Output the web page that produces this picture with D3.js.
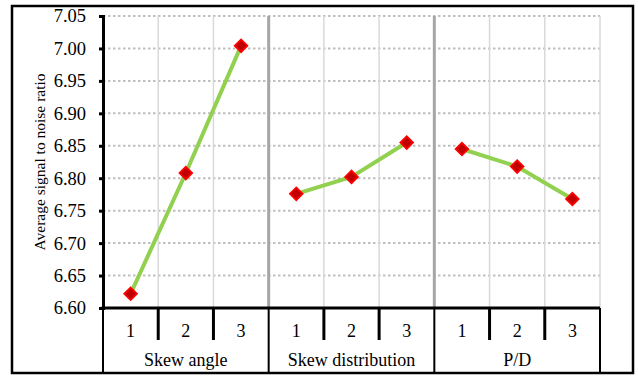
<!DOCTYPE html>
<html><head><meta charset="utf-8">
<script src="https://cdn.jsdelivr.net/npm/d3@7"></script>
<style>body{margin:0;background:#fff}svg{display:block}</style>
</head><body><svg id="c" width="638" height="376"></svg>
<script>
const groups = ["Skew angle", "Skew distribution", "P/D"];
const levels = ["1", "2", "3"];
const skewAngle = [6.622, 6.808, 7.004];
const skewDistribution = [6.776, 6.802, 6.855];
const pd = [6.845, 6.818, 6.768];
const yTicks = [6.60, 6.65, 6.70, 6.75, 6.80, 6.85, 6.90, 6.95, 7.00, 7.05];
const yTitle = "Average signal to noise ratio";

const seriesByGroup = [skewAngle, skewDistribution, pd];
const data = [];
groups.forEach((g, gi) => levels.forEach((l, li) => data.push({g, l, key: g + "|" + l, v: seriesByGroup[gi][li]})));

const FONT = '"Liberation Serif"';
const svg = d3.select("#c");
const L = 103, R = 600, T = 16, B = 308, Bottom = 373;
const x = d3.scaleBand().domain(data.map(d => d.key)).range([L, R]).padding(0);
const y = d3.scaleLinear().domain([6.60, 7.05]).range([B, T]);

// outer border
svg.append("rect").attr("x", 12).attr("y", 6).attr("width", 621).attr("height", 367)
  .attr("fill", "none").attr("stroke", "#000").attr("stroke-width", 2.5);

// horizontal dotted gridlines
svg.append("g").selectAll("line").data(yTicks.slice(1)).join("line")
  .attr("x1", L).attr("x2", R).attr("y1", d => y(d)).attr("y2", d => y(d))
  .attr("stroke", "#BFBFBF").attr("stroke-width", 2).attr("stroke-dasharray", "2.5,2.5");

// vertical gridlines
const bounds = data.map((d, i) => i).slice(1).concat([data.length]);
svg.append("g").selectAll("line").data(bounds).join("line")
  .attr("x1", i => L + i * x.bandwidth()).attr("x2", i => L + i * x.bandwidth())
  .attr("y1", T).attr("y2", B)
  .attr("stroke", i => (i % 3 === 0 && i < data.length) ? "#A6A6A6" : "#D9D9D9")
  .attr("stroke-width", i => (i % 3 === 0 && i < data.length) ? 3 : 1.5);

// y axis
const yAxis = d3.axisLeft(y).tickValues(yTicks).tickFormat(d3.format(".2f")).tickSize(4).tickPadding(13);
const ya = svg.append("g").attr("transform", `translate(${L},0)`).call(yAxis);
ya.select(".domain").attr("stroke", "#000").attr("stroke-width", 3);
ya.selectAll(".tick line").attr("stroke", "#000").attr("stroke-width", 3);
ya.selectAll(".tick text").style("font-family", FONT).style("font-size", "18.5px").attr("fill", "#000");

// y title
svg.append("text").attr("transform", `translate(45,${(T + B) / 2}) rotate(-90)`)
  .attr("text-anchor", "middle").style("font-family", FONT).style("font-size", "15.5px").text(yTitle);

// category axis
const cat = svg.append("g");
cat.append("line").attr("x1", L - 1.5).attr("x2", R).attr("y1", B).attr("y2", B).attr("stroke", "#000").attr("stroke-width", 3);
cat.append("line").attr("x1", L).attr("x2", L).attr("y1", B).attr("y2", Bottom).attr("stroke", "#000").attr("stroke-width", 2);
const bandW = x.bandwidth();
cat.selectAll("line.sep").data(d3.range(1, data.length + 1)).join("line").attr("class", "sep")
  .attr("x1", i => L + i * bandW).attr("x2", i => L + i * bandW)
  .attr("y1", B).attr("y2", i => i % 3 === 0 ? Bottom : 340)
  .attr("stroke", "#000").attr("stroke-width", i => i % 3 === 0 ? 2 : 3);
cat.selectAll("text.lv").data(data).join("text").attr("class", "lv")
  .attr("x", d => x(d.key) + bandW / 2).attr("y", 337).attr("text-anchor", "middle")
  .style("font-family", FONT).style("font-size", "18px").text(d => d.l);
cat.selectAll("text.gr").data(groups).join("text").attr("class", "gr")
  .attr("x", (g, gi) => L + (gi * 3 + 1.5) * bandW).attr("y", 366).attr("text-anchor", "middle")
  .style("font-family", FONT).style("font-size", "18px").text(g => g);

// lines per group
const line = d3.line().x(d => x(d.key) + bandW / 2).y(d => y(d.v));
groups.forEach(g => {
  svg.append("path").datum(data.filter(d => d.g === g)).attr("d", line)
    .attr("fill", "none").attr("stroke", "#92D050").attr("stroke-width", 4);
});

// markers
svg.append("g").selectAll("path").data(data).join("path")
  .attr("d", d3.symbol(d3.symbolSquare, 80)())
  .attr("transform", d => `translate(${x(d.key) + bandW / 2},${y(d.v)}) rotate(45)`)
  .attr("fill", "#C00000").attr("stroke", "#FF0000").attr("stroke-width", 1.8);
</script></body></html>
